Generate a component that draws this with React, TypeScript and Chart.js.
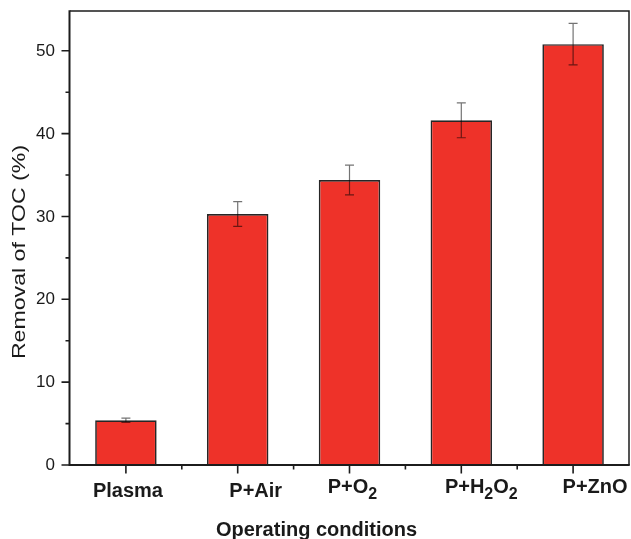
import React, { useEffect, useRef } from "react";
import { Chart, registerables } from "chart.js";

Chart.register(...registerables);

// ---- data ----
const categories = ["Plasma", "P+Air", "P+O₂", "P+H₂O₂", "P+ZnO"];
const tocRemoval = [5.4, 30.3, 34.4, 41.6, 50.8];
const tocError = [0.25, 1.5, 1.8, 2.1, 2.5];
const yMajorTicks = [0, 10, 20, 30, 40, 50];
const yMinorTicks = [5, 15, 25, 35, 45];
const yTitle = "Removal of TOC (%)";
const xTitle = "Operating conditions";

// ---- styling ----
const BAR_COLOR = "#EE3229";
const BAR_BORDER = "#262626";
const AXIS_COLOR = "#1c1c1c";
const FONT = "'Liberation Sans', Arial, Helvetica, sans-serif";
const labelDx = [2, 18, 3, 20, 22];
const labelBaselineDy = [32, 32, 28, 28, 28];

function drawLabelWithSubscripts(ctx: CanvasRenderingContext2D, text: string, cx: number, baseline: number) {
  const mainFont = `bold 20px ${FONT}`;
  const subFont = `bold 16px ${FONT}`;
  const parts: { t: string; sub: boolean }[] = [];
  for (const ch of text) {
    const isSub = ch === "₂";
    const t = isSub ? "2" : ch;
    const last = parts[parts.length - 1];
    if (last && last.sub === isSub) last.t += t;
    else parts.push({ t, sub: isSub });
  }
  let total = 0;
  for (const p of parts) {
    ctx.font = p.sub ? subFont : mainFont;
    total += ctx.measureText(p.t).width;
  }
  let x = cx - total / 2;
  ctx.textAlign = "left";
  ctx.textBaseline = "alphabetic";
  for (const p of parts) {
    ctx.font = p.sub ? subFont : mainFont;
    ctx.fillText(p.t, x, baseline + (p.sub ? 6 : 0));
    x += ctx.measureText(p.t).width;
  }
}

const decorPlugin = {
  id: "decor",
  afterDatasetsDraw(chart: any) {
    const ctx: CanvasRenderingContext2D = chart.ctx;
    const meta = chart.getDatasetMeta(0);
    const ys = chart.scales.y;
    ctx.save();
    ctx.strokeStyle = "rgba(0,0,0,0.55)";
    ctx.lineWidth = 1.2;
    meta.data.forEach((bar: any, i: number) => {
      const v = tocRemoval[i];
      const e = tocError[i];
      const yTop = ys.getPixelForValue(v + e);
      const yBot = ys.getPixelForValue(v - e);
      const x = bar.x;
      ctx.beginPath();
      ctx.moveTo(x, yTop);
      ctx.lineTo(x, yBot);
      ctx.moveTo(x - 4.5, yTop);
      ctx.lineTo(x + 4.5, yTop);
      ctx.moveTo(x - 4.5, yBot);
      ctx.lineTo(x + 4.5, yBot);
      ctx.stroke();
    });
    ctx.restore();
  },
  afterDraw(chart: any) {
    const ctx: CanvasRenderingContext2D = chart.ctx;
    const ca = chart.chartArea;
    const xs = chart.scales.x;
    const ys = chart.scales.y;
    ctx.save();
    ctx.strokeStyle = AXIS_COLOR;
    // top and right frame
    ctx.lineWidth = 1.5;
    ctx.beginPath();
    ctx.moveTo(ca.left, ca.top);
    ctx.lineTo(ca.right, ca.top);
    ctx.lineTo(ca.right, ca.bottom);
    ctx.stroke();
    // left and bottom axes
    ctx.lineWidth = 2;
    ctx.beginPath();
    ctx.moveTo(ca.left - 0.5, ca.top - 0.75);
    ctx.lineTo(ca.left - 0.5, ca.bottom);
    ctx.lineTo(ca.right + 0.75, ca.bottom);
    ctx.stroke();

    // y ticks
    ctx.lineWidth = 1.6;
    ctx.beginPath();
    yMajorTicks.forEach((v) => {
      const y = ys.getPixelForValue(v);
      ctx.moveTo(ca.left - 1, y);
      ctx.lineTo(ca.left - 8.5, y);
    });
    yMinorTicks.forEach((v) => {
      const y = ys.getPixelForValue(v);
      ctx.moveTo(ca.left - 1, y);
      ctx.lineTo(ca.left - 4.5, y);
    });
    // x ticks
    categories.forEach((_, i) => {
      const x = xs.getPixelForValue(i);
      ctx.moveTo(x, ca.bottom + 1);
      ctx.lineTo(x, ca.bottom + 8.5);
      if (i < categories.length - 1) {
        const xm = (x + xs.getPixelForValue(i + 1)) / 2;
        ctx.moveTo(xm, ca.bottom + 1);
        ctx.lineTo(xm, ca.bottom + 4.5);
      }
    });
    ctx.stroke();

    // y tick labels
    ctx.fillStyle = "#1a1a1a";
    ctx.font = `17px ${FONT}`;
    ctx.textAlign = "right";
    ctx.textBaseline = "middle";
    yMajorTicks.forEach((v) => {
      ctx.fillText(String(v), ca.left - 15, ys.getPixelForValue(v) + 0.5);
    });

    // x tick labels
    categories.forEach((c, i) => {
      const x = xs.getPixelForValue(i) + labelDx[i];
      drawLabelWithSubscripts(ctx, c, x, ca.bottom + labelBaselineDy[i]);
    });

    // x title
    ctx.font = `bold 20px ${FONT}`;
    ctx.textAlign = "center";
    ctx.textBaseline = "alphabetic";
    ctx.fillText(xTitle, 316.5, ca.bottom + 71);

    // y title
    ctx.save();
    ctx.translate(25, 252);
    ctx.rotate(-Math.PI / 2);
    ctx.scale(1.25, 1);
    ctx.font = `18.5px ${FONT}`;
    ctx.textAlign = "center";
    ctx.textBaseline = "alphabetic";
    ctx.fillText(yTitle, 0, 0);
    ctx.restore();

    ctx.restore();
  },
};

export default function App() {
  const ref = useRef<HTMLCanvasElement | null>(null);
  useEffect(() => {
    if (!ref.current) return;
    const chart = new Chart(ref.current, {
      type: "bar",
      data: {
        labels: categories,
        datasets: [
          {
            data: tocRemoval,
            backgroundColor: BAR_COLOR,
            borderColor: BAR_BORDER,
            borderWidth: 1.7,
            categoryPercentage: 1,
            barPercentage: 0.55,
          },
        ],
      },
      options: {
        animation: false,
        responsive: true,
        maintainAspectRatio: false,
        layout: { padding: { left: 70, right: 2, top: 11, bottom: 74 } },
        plugins: { legend: { display: false }, tooltip: { enabled: false } },
        scales: {
          x: { display: false, offset: true },
          y: { display: false, min: 0, max: 54.8 },
        },
      },
      plugins: [decorPlugin],
    });
    return () => chart.destroy();
  }, []);
  return (
    <div style={{ position: "fixed", left: 0, top: 0, width: 631, height: 539, background: "#fff" }}>
      <canvas ref={ref} />
    </div>
  );
}
